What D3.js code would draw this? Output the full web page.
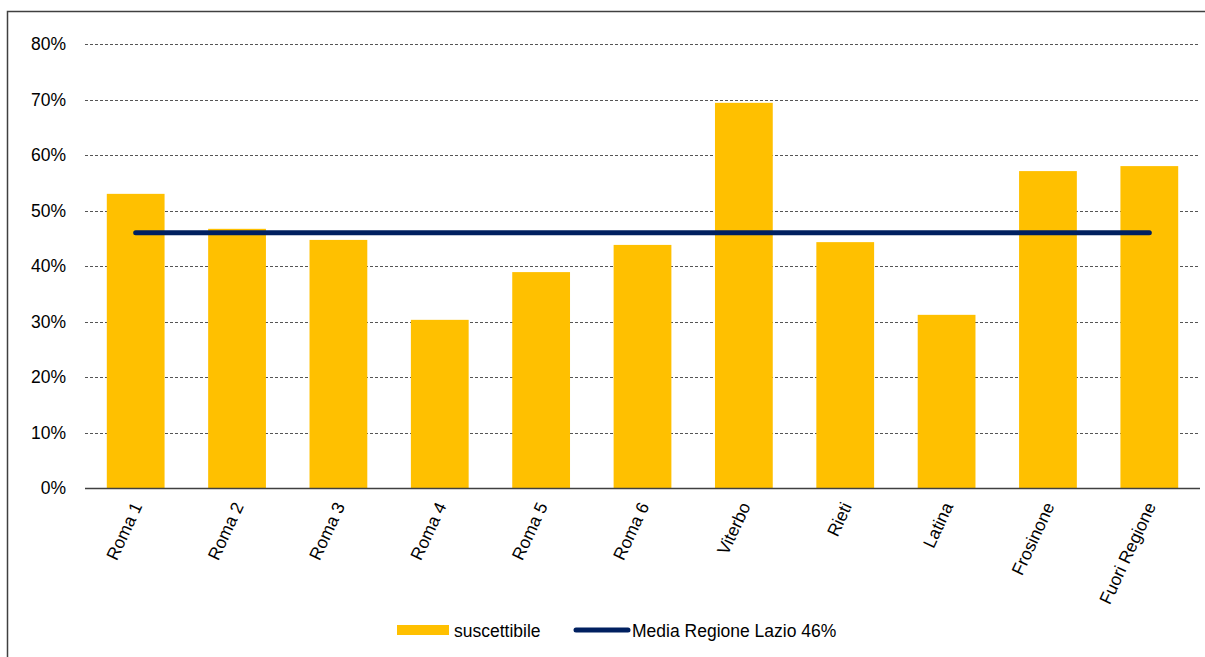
<!DOCTYPE html>
<html>
<head>
<meta charset="utf-8">
<script src="https://cdn.jsdelivr.net/npm/d3@7"></script>
<style>
html,body{margin:0;padding:0;background:#fff;}
svg text{font-family:"Liberation Sans",Arial,sans-serif;fill:#000;}
</style>
</head>
<body>
<svg id="chart" width="1205" height="657"></svg>
<script>
const categories = ["Roma 1","Roma 2","Roma 3","Roma 4","Roma 5","Roma 6","Viterbo","Rieti","Latina","Frosinone","Fuori Regione"];
const suscettibile = [53.0, 46.7, 44.7, 30.3, 38.9, 43.8, 69.4, 44.3, 31.2, 57.1, 58.0];
const mediaRegione = [46, 46, 46, 46, 46, 46, 46, 46, 46, 46, 46];
const yTicks = [0, 10, 20, 30, 40, 50, 60, 70, 80];
const seriesNames = ["suscettibile", "Media Regione Lazio 46%"];

const svg = d3.select("#chart");
const plotLeft = 85, plotRight = 1200, plotTop = 44, plotBottom = 488;
const fs = 17.5;

// outer frame
svg.append("rect").attr("x",7.5).attr("y",11.5).attr("width",1220).attr("height",700)
  .attr("fill","none").attr("stroke","#404040").attr("stroke-width",1.5);

const x = d3.scaleBand().domain(categories).range([plotLeft,plotRight]).paddingInner(0.43).paddingOuter(0.215);
const y = d3.scaleLinear().domain([0,80]).range([plotBottom,plotTop]);

// gridlines
svg.append("g").selectAll("line").data(yTicks.filter(d=>d>0)).join("line")
  .attr("x1",plotLeft).attr("x2",plotRight)
  .attr("y1",d=>Math.round(y(d))+0.5).attr("y2",d=>Math.round(y(d))+0.5)
  .attr("stroke","#555").attr("stroke-width",1).attr("stroke-dasharray","3,2");

// y axis labels
const yAxis = d3.axisLeft(y).tickValues(yTicks).tickFormat(d=>d+"%").tickSize(0).tickPadding(0);
const yg = svg.append("g").attr("transform",`translate(${66},0)`).call(yAxis);
yg.select(".domain").remove();
yg.selectAll("text").attr("font-size",fs).attr("font-family","'Liberation Sans',Arial,sans-serif").attr("fill","#000");

// bars
svg.append("g").selectAll("rect").data(categories).join("rect")
  .attr("x",(d)=>x(d)).attr("width",x.bandwidth())
  .attr("y",(d,i)=>y(suscettibile[i])).attr("height",(d,i)=>plotBottom-y(suscettibile[i]))
  .attr("fill","#FFC000");

// x axis
const xAxis = d3.axisBottom(x).tickSize(0).tickPadding(0);
const xg = svg.append("g").attr("transform",`translate(0,${plotBottom})`).call(xAxis);
xg.select(".domain").attr("d",`M${plotLeft},0.5H${plotRight}`).attr("stroke","#404040").attr("stroke-width",1.5);
xg.selectAll("text")
  .attr("font-size",fs).attr("font-family","'Liberation Sans',Arial,sans-serif").attr("fill","#000")
  .attr("text-anchor","end").attr("dy",null).attr("y",0)
  .attr("transform","translate(7,18) rotate(-65)");

// mean line
const line = d3.line().x((d,i)=>x(categories[i])+x.bandwidth()/2).y(d=>y(d));
svg.append("path").datum(mediaRegione).attr("d",line)
  .attr("fill","none").attr("stroke","#002060").attr("stroke-width",5).attr("stroke-linecap","round");

// legend
const lg = svg.append("g");
lg.append("rect").attr("x",397).attr("y",625).attr("width",52).attr("height",10).attr("fill","#FFC000");
lg.append("text").attr("x",454).attr("y",637).attr("font-size",fs).text(seriesNames[0]);
lg.append("line").attr("x1",576).attr("x2",628).attr("y1",630).attr("y2",630)
  .attr("stroke","#002060").attr("stroke-width",5).attr("stroke-linecap","round");
lg.append("text").attr("x",632).attr("y",637).attr("font-size",fs).text(seriesNames[1]);
</script>
</body>
</html>
